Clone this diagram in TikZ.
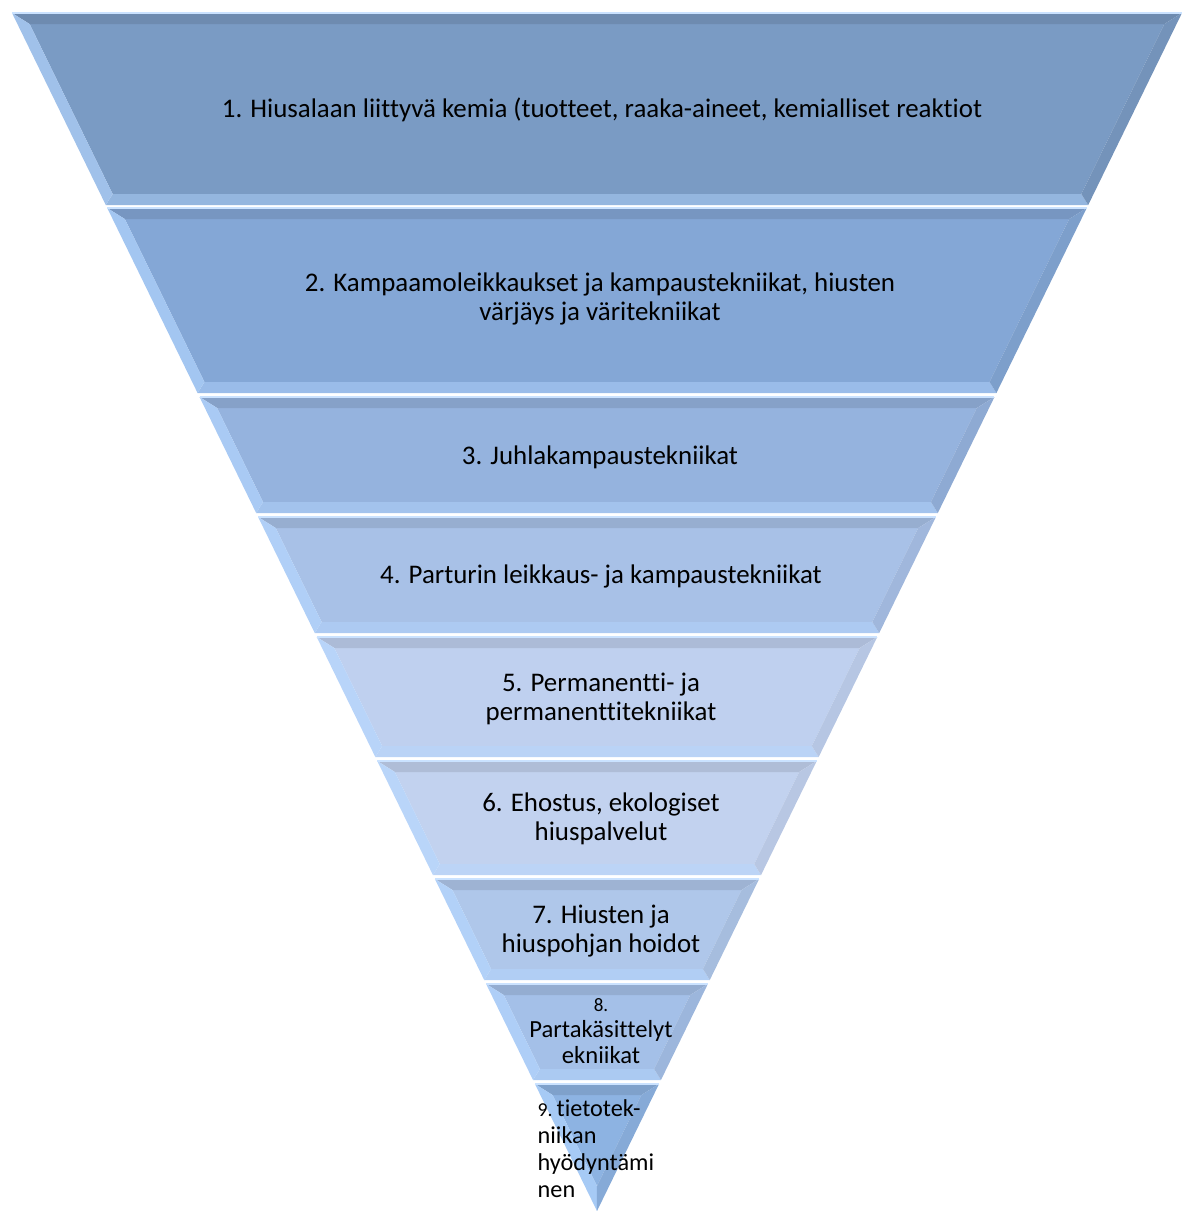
\documentclass[tikz,border=0pt]{standalone}
\usepackage{fontspec}
\setmainfont{Carlito}[Ligatures=NoCommon]
\usepackage{xcolor}
\definecolor{tier1}{HTML}{7A9BC4}
\definecolor{tier2}{HTML}{84A7D6}
\definecolor{tier3}{HTML}{95B3DE}
\definecolor{tier4}{HTML}{A8C1E7}
\definecolor{tier5}{HTML}{BFD0EF}
\definecolor{tier6}{HTML}{C2D2EF}
\definecolor{tier7}{HTML}{AFC7EA}
\definecolor{tier8}{HTML}{A4C0E8}
\definecolor{tier9}{HTML}{8DB3E2}
\definecolor{bevellight}{HTML}{B4D6FF}
\newcommand{\tierfont}{\fontsize{7.65}{8.3}\selectfont}
\newcommand{\smalltierfont}{\fontsize{7.0}{7.45}\selectfont}
\usetikzlibrary{calc,positioning}

\begin{document}
\begin{tikzpicture}[font=\tierfont,
    tiertext/.style={align=center, inner sep=0pt, text=black}]
			\useasboundingbox (0,0) rectangle (11.82,-12.11);
			% tiers: number / top px / bottom px
			\foreach \n/\ta/\tb in {1/13/205,2/208/393,3/397/513,4/517/633,5/637/757,6/761/875,7/879/980,8/984/1080,9/1084/1211} {
				\pgfmathsetmacro\yt{-\ta/100}
				\pgfmathsetmacro\yb{-\tb/100}
				\pgfmathsetmacro\wt{(1211-\ta)*0.004885}
				\pgfmathsetmacro\wb{(1211-\tb)*0.004885}
				\pgfmathsetmacro\yti{-(\ta+11)/100}
				\pgfmathsetmacro\ybpx{min(\tb-11,1186)}
				\pgfmathsetmacro\ybi{-\ybpx/100}
				\pgfmathsetmacro\wti{(1211-\ta-11)*0.004885-0.1224}
				\pgfmathsetmacro\wbi{max(0,(1211-\ybpx)*0.004885-0.1224)}
				\coordinate (o1) at (5.97-\wt,\yt);
				\coordinate (o2) at (5.97+\wt,\yt);
				\coordinate (o3) at (5.97+\wb,\yb);
				\coordinate (o4) at (5.97-\wb,\yb);
				\coordinate (i1) at (5.97-\wti,\yti);
				\coordinate (i2) at (5.97+\wti,\yti);
				\coordinate (i3) at (5.97+\wbi,\ybi);
				\coordinate (i4) at (5.97-\wbi,\ybi);
				\fill[tier\n] (i1) -- (i2) -- (i3) -- (i4) -- cycle;
				\fill[tier\n!90!black] (o1) -- (o2) -- (i2) -- (i1) -- cycle;
				\fill[tier\n!55!bevellight] (o4) -- (o3) -- (i3) -- (i4) -- cycle;
				\fill[tier\n!35!bevellight] (o1) -- (i1) -- (i4) -- (o4) -- cycle;
				\fill[tier\n!95!black] (o2) -- (i2) -- (i3) -- (o3) -- cycle;
				\draw[bevellight!70!white, line width=0.5pt] (o1) -- (o2);
			}

			\node[tiertext] (t1) at (6.02,-1.10) {1. Hiusalaan liittyvä kemia (tuotteet, raaka-aineet, kemialliset reaktiot};
			\node[tiertext] (t2) at (6.00,-2.99) {2. Kampaamoleikkaukset ja kampaustekniikat, hiusten\\värjäys ja väritekniikat};
			\node[tiertext] (t3) at (6.00,-4.57) {3. Juhlakampaustekniikat};
			\node[tiertext] (t4) at (6.01,-5.76) {4. Parturin leikkaus- ja kampaustekniikat};
			\node[tiertext] (t5) at (6.01,-6.99) {5. Permanentti- ja\\permanenttitekniikat};
			\node[tiertext] (t6) at (6.01,-8.19) {6. Ehostus, ekologiset\\hiuspalvelut};
			\node[tiertext] (t7) at (6.01,-9.31) {7. Hiusten ja\\hiuspohjan hoidot};
			\node[tiertext, font=\smalltierfont] (t8) at (6.01,-10.31) {{\fontsize{5.4}{7.45}\selectfont 8.}\\Partakäsittelyt\\ekniikat};
			\node[tiertext, align=left, anchor=north west, font=\fontsize{6.9}{7.7}\selectfont] (t9) at (5.37,-10.99) {{\fontsize{5.6}{7.7}\selectfont 9.}\,tietotek-\\niikan\\hyödyntämi\\nen};
		\end{tikzpicture}
\end{document}
